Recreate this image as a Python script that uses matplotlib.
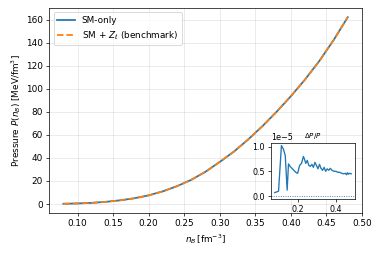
import matplotlib
matplotlib.use("Agg")
import matplotlib.pyplot as plt

# pressure curve P(n_B), both models overlap
n_B = [0.08, 0.10, 0.12, 0.14, 0.16, 0.18, 0.20, 0.22, 0.24, 0.26, 0.28,
       0.30, 0.32, 0.34, 0.36, 0.38, 0.40, 0.42, 0.44, 0.46, 0.48]
P_sm = [0.2, 0.5, 1.0, 1.9, 3.2, 5.0, 7.5, 11.0, 15.5, 21.0, 28.0,
        36.5, 45.5, 56.0, 67.5, 80.0, 93.5, 108.0, 124.0, 142.0, 162.0]
P_bench = list(P_sm)

# relative difference dP/P (units of 1e-5)
n_rel = [0.08, 0.10, 0.115, 0.125, 0.135, 0.145, 0.152, 0.16, 0.17, 0.18, 0.19,
         0.20, 0.21, 0.22, 0.23, 0.236, 0.242, 0.25, 0.258, 0.266, 0.274, 0.282,
         0.29, 0.298, 0.306, 0.314, 0.322, 0.33, 0.338, 0.346, 0.354, 0.362,
         0.37, 0.38, 0.39, 0.40, 0.41, 0.42, 0.43, 0.44, 0.45, 0.455, 0.46,
         0.465, 0.47, 0.48]
rel = [0.07, 0.10, 1.02, 0.95, 0.82, 0.12, 0.65, 0.60, 0.56, 0.52, 0.48,
       0.46, 0.62, 0.66, 0.80, 0.74, 0.66, 0.72, 0.62, 0.60, 0.64, 0.58,
       0.68, 0.62, 0.55, 0.64, 0.56, 0.52, 0.58, 0.50, 0.55, 0.52,
       0.56, 0.52, 0.50, 0.50, 0.48, 0.48, 0.46, 0.45, 0.46, 0.43, 0.47,
       0.44, 0.46, 0.45]
rel = [v * 1e-5 for v in rel]

fig = plt.figure(figsize=(6, 4), dpi=63.5)
ax = fig.add_axes([0.129, 0.161, 0.821, 0.808])
ax.plot(n_B, P_sm, color="C0", lw=2, label="SM-only")
ax.plot(n_B, P_bench, color="C1", lw=2, ls="--", label=r"SM + $Z_\ell$ (benchmark)")
ax.set_xlabel(r"$n_B\,[\mathrm{fm}^{-3}]$")
ax.set_ylabel(r"Pressure $P(n_B)$ [MeV/fm$^3$]")
ax.set_xticks([0.10, 0.15, 0.20, 0.25, 0.30, 0.35, 0.40, 0.45, 0.50])
ax.set_xlim(0.06, 0.50)
ax.grid(True, alpha=0.35)
ax.legend(loc="upper left")

# ---- inset: relative difference ----
ins = fig.add_axes([0.711, 0.218, 0.221, 0.219])
ins.plot(n_rel, rel, color="C0", lw=1.5)
ins.axhline(0, color="C0", ls=":", lw=1)
ins.set_xlim(0.06, 0.50)
ins.set_xticks([0.2, 0.4])
ins.set_yticks([0.0, 0.5e-5, 1.0e-5])
ins.tick_params(labelsize=9)
ins.yaxis.get_offset_text().set_fontsize(9)
ins.set_title(r"$\Delta P/P$", fontsize=8)

fig.savefig("out.png", dpi=63.5)
